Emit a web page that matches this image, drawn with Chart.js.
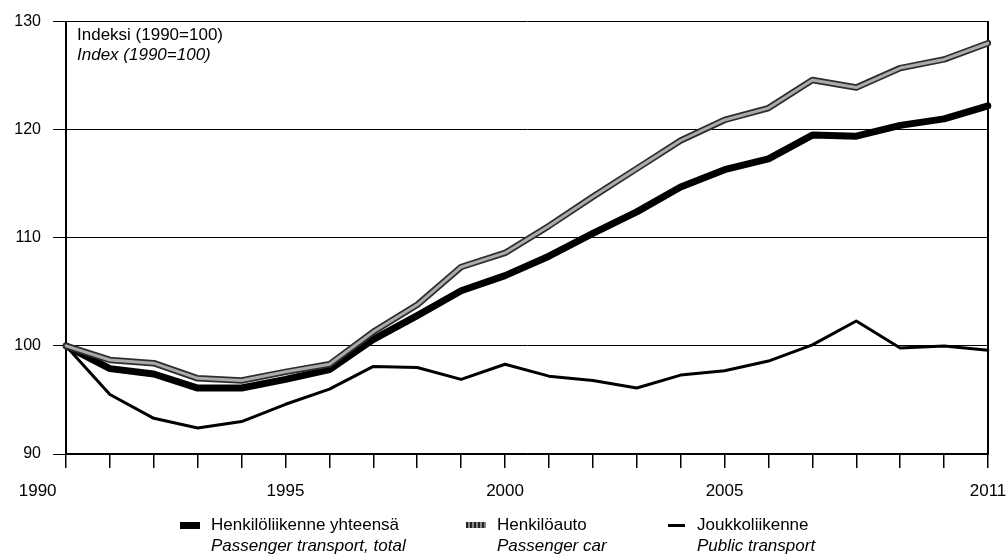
<!DOCTYPE html>
<html lang="fi">
    <head>
        <meta charset="utf-8" />
        <script src="https://cdn.jsdelivr.net/npm/chart.js@4.4.1/dist/chart.umd.min.js"></script>
        <title>Henkilöliikenne</title>
        <style>
            body { margin: 0; background: #fff; }
            #kehys { position: relative; width: 1008px; height: 556px; font-family: "Liberation Sans", Arial, sans-serif; color: #000; }
            #kaavio { position: absolute; left: 0; top: 0; }
            .teksti { position: absolute; font-size: 17px; line-height: 21px; white-space: nowrap; }
            .teksti i { display: block; }
            .merkki { position: absolute; }
        </style>
    </head>
    <body>
        <div id="kehys">
            <canvas id="kaavio" width="1008" height="556"></canvas>
            <div class="teksti" style="left:77px; top:25px; line-height:20px;">Indeksi (1990=100)<i>Index (1990=100)</i></div>
            <div id="selite"></div>
        </div>
        <script>
            // Vuodet ja sarjat (indeksi 1990=100), luettu kuvasta
            const vuodet = ["1990","1991","1992","1993","1994","1995","1996","1997","1998","1999","2000",
                            "2001","2002","2003","2004","2005","2006","2007","2008","2009","2010","2011"];
            const naytettavat = ["1990", "1995", "2000", "2005", "2011"];
            const yhteensa = [100, 97.9, 97.4, 96.1, 96.1, 96.9, 97.8, 100.6, 102.8, 105.1, 106.5,
                              108.3, 110.4, 112.4, 114.7, 116.3, 117.3, 119.5, 119.4, 120.4, 121.0, 122.2];
            const henkiloauto = [100, 98.7, 98.4, 97.0, 96.8, 97.6, 98.3, 101.3, 103.8, 107.3, 108.6,
                                 111.1, 113.8, 116.4, 119.0, 120.9, 122.0, 124.6, 123.9, 125.7, 126.5, 128.0];
            const joukko = [100, 95.5, 93.3, 92.4, 93.0, 94.6, 96.0, 98.1, 98.0, 96.9, 98.3,
                            97.2, 96.8, 96.1, 97.3, 97.7, 98.6, 100.1, 102.3, 99.8, 100.0, 99.6];
            const nimet = ["Henkilöliikenne yhteensä", "Henkilöauto", "Joukkoliikenne"];
            const nimetEn = ["Passenger transport, total", "Passenger car", "Public transport"];

            const fontti = "'Liberation Sans', Arial, sans-serif";

            new Chart(document.getElementById("kaavio").getContext("2d"), {
                type: "line",
                data: {
                    labels: vuodet,
                    datasets: [
                        // henkilöauto: harmaa viiva tummilla reunoilla -> kaksi kerrosta
                        { label: nimet[1], data: henkiloauto, borderColor: "#ababab", borderWidth: 3, order: 0 },
                        { label: nimet[1] + " reuna", data: henkiloauto, borderColor: "#2e2e2e", borderWidth: 6.5, order: 1 },
                        { label: nimet[0], data: yhteensa, borderColor: "#000", borderWidth: 7, order: 2 },
                        { label: nimet[2], data: joukko, borderColor: "#000", borderWidth: 3, order: 3 }
                    ]
                },
                options: {
                    responsive: false,
                    animation: false,
                    layout: { padding: { top: 15, right: 20, left: 0, bottom: 0 } },
                    elements: {
                        point: { radius: 0 },
                        line: { tension: 0, borderJoinStyle: "round", borderCapStyle: "round", fill: false }
                    },
                    plugins: { legend: { display: false }, tooltip: { enabled: false } },
                    scales: {
                        x: {
                            grid: { drawOnChartArea: false, color: "#000", lineWidth: 1.5, tickLength: 14 },
                            border: { color: "#000", width: 1.5 },
                            ticks: {
                                autoSkip: false, maxRotation: 0, padding: 13, color: "#000",
                                font: { family: fontti, size: 17 },
                                callback: function (v, i) {
                                    const t = vuodet[i];
                                    if (!naytettavat.includes(t)) return "";
                                    // ensimmäinen vuosi on siirretty akselin vasemmalle puolelle
                                    return i === 0 ? t + "            " : t;
                                }
                            },
                            afterFit: function (s) {
                                s.height = 102;
                                s.paddingLeft = 0;
                                s.paddingRight = 0;
                            }
                        },
                        y: {
                            min: 90, max: 130,
                            grid: { color: "#000", lineWidth: 1, tickLength: 13 },
                            border: { color: "#000", width: 2 },
                            ticks: { stepSize: 10, padding: 12, color: "#000", font: { family: fontti, size: 16 } },
                            afterFit: function (s) { s.width = 66; }
                        },
                        y2: {
                            position: "right",
                            min: 90, max: 130,
                            grid: { drawOnChartArea: false, drawTicks: false },
                            border: { color: "#000", width: 2 },
                            ticks: { display: false },
                            afterFit: function (s) { s.width = 0; }
                        }
                    }
                }
            });

            // Selite alas, kaksi riviä per sarja
            const selite = document.getElementById("selite");
            const tekstiX = [211, 497, 697];
            const merkit = [
                { x: 180, w: 20, h: 7, tausta: "#000" },
                { x: 466, w: 20, h: 6, tausta: "repeating-linear-gradient(90deg,#222 0 2px,#888 2px 4px)" },
                { x: 668, w: 17, h: 3, tausta: "#000" }
            ];
            nimet.forEach((n, i) => {
                const m = document.createElement("div");
                m.className = "merkki";
                m.style.left = merkit[i].x + "px";
                m.style.top = (525 - merkit[i].h / 2) + "px";
                m.style.width = merkit[i].w + "px";
                m.style.height = merkit[i].h + "px";
                m.style.background = merkit[i].tausta;
                selite.appendChild(m);
                const t = document.createElement("div");
                t.className = "teksti";
                t.style.left = tekstiX[i] + "px";
                t.style.top = "514px";
                t.innerHTML = n + "<i>" + nimetEn[i] + "</i>";
                selite.appendChild(t);
            });
        </script>
    </body>
</html>
